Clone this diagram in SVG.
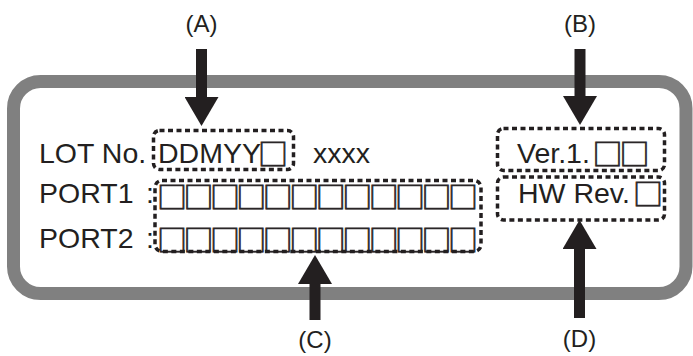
<svg xmlns="http://www.w3.org/2000/svg" width="693" height="356" viewBox="0 0 693 356">
<style>
.t{font-family:"Liberation Sans",Arial,sans-serif;font-size:28.5px;fill:#231f20}
.sq{font-family:"Noto Sans CJK JP","Noto Sans CJK SC",sans-serif;font-size:30px;fill:#2a2627;stroke:#2a2627;stroke-width:0.7}
.lbl{font-family:"Liberation Sans",Arial,sans-serif;font-size:24px;fill:#231f20;text-anchor:middle}
.dash{fill:none;stroke:#231f20;stroke-width:3.5;stroke-dasharray:5 3.5}
.arr{stroke:#231f20;stroke-width:11;fill:none;marker-end:url(#head)}
</style>
<defs>
<marker id="head" markerUnits="userSpaceOnUse" viewBox="0 0 29 34" markerWidth="29" markerHeight="34" refX="1" refY="17" orient="auto">
<path d="M0,0 L29,17 L0,34 Z" fill="#231f20"/>
</marker>
</defs>
<rect x="0" y="0" width="693" height="356" fill="#ffffff"/>
<g id="label-frame">
<rect x="13.5" y="81.5" width="672.5" height="212" rx="27" ry="27" fill="none" stroke="#808080" stroke-width="13"/>
</g>
<g id="text-rows">
<text class="t" x="39" y="162.5">LOT No.</text>
<text class="t" x="158" y="162.5">DDMYY</text>
<text class="sq" x="258" y="164.5">□</text>
<text class="t" x="313" y="162.5">xxxx</text>
<text class="t" x="39" y="202.5">PORT1</text>
<text class="t" x="146" y="202.5">:</text>
<text class="sq" x="157" y="208" textLength="321" lengthAdjust="spacing">□□□□□□□□□□□□</text>
<text class="t" x="39" y="247.5">PORT2</text>
<text class="t" x="146" y="247.5">:</text>
<text class="sq" x="157" y="251" textLength="321" lengthAdjust="spacing">□□□□□□□□□□□□</text>
<text class="t" x="517" y="162.5">Ver.1.</text>
<text class="sq" x="592.5" y="164.5" textLength="57" lengthAdjust="spacing">□□</text>
<text class="t" x="518" y="202.5">HW Rev.</text>
<text class="sq" x="633" y="204.5">□</text>
</g>
<g id="node-A">
<rect class="dash" x="153.5" y="130.5" width="140" height="39" rx="6"/>
</g>
<g id="node-B">
<rect class="dash" x="497.5" y="128.5" width="167" height="42" rx="6"/>
</g>
<g id="node-C">
<rect class="dash" x="155" y="180.5" width="326" height="71" rx="7"/>
</g>
<g id="node-D">
<rect class="dash" x="497.5" y="177" width="167" height="43" rx="6"/>
</g>
<g id="labels">
<text class="lbl" x="201.5" y="32">(A)</text>
<text class="lbl" x="580" y="32">(B)</text>
<text class="lbl" x="315" y="348">(C)</text>
<text class="lbl" x="579.5" y="347">(D)</text>
</g>
<g id="connectors">
<line class="arr" x1="201.5" y1="49" x2="201.5" y2="98"/>
<line class="arr" x1="580" y1="49" x2="580" y2="97"/>
<line class="arr" x1="315" y1="320" x2="315" y2="283"/>
<line class="arr" x1="579.5" y1="318" x2="579.5" y2="248"/>
</g>
</svg>
